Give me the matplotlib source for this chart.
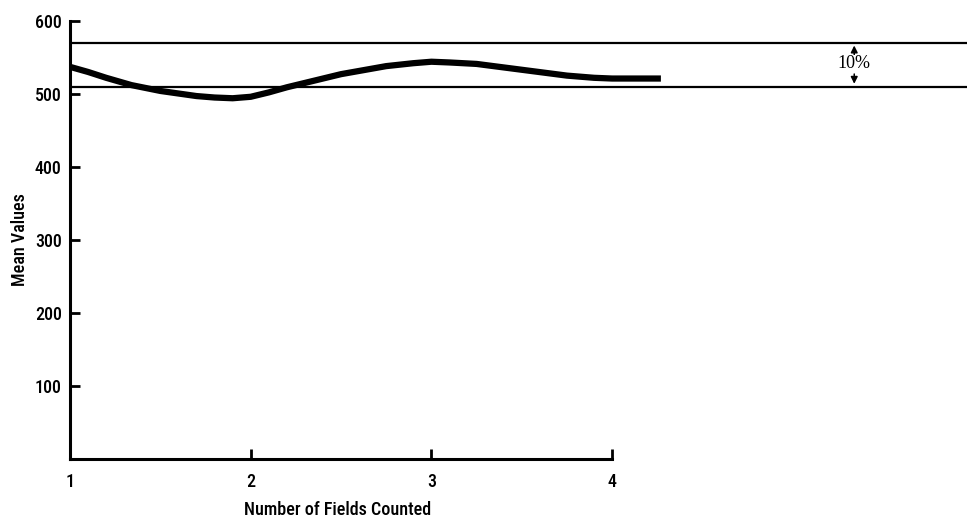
import matplotlib
matplotlib.use("Agg")
import matplotlib.pyplot as plt
from matplotlib import font_manager

# values
fields = [1.0, 1.1, 1.2, 1.34, 1.5, 1.7, 1.8, 1.9, 2.0, 2.1, 2.2, 2.35, 2.5, 2.75, 2.9, 3.0,
          3.1, 3.25, 3.5, 3.75, 3.9, 4.0, 4.27]
mean_values = [537, 530, 522, 512, 504, 497, 495, 494, 496, 502, 509, 518, 527, 538, 542, 544,
               543, 541, 533, 525, 522, 521, 521]
band_upper = 570
band_lower = 510
x_ticks = [1, 2, 3, 4]
y_ticks = [100, 200, 300, 400, 500, 600]

names = {f.name for f in font_manager.fontManager.ttflist}
label_font = "DejaVu Sans"
for candidate in ["Liberation Sans Narrow", "Roboto Condensed", "Open Sans Condensed"]:
    if candidate in names:
        label_font = candidate
        break
text_style = dict(family=label_font, stretch="condensed", fontsize=13, weight="medium")

fig = plt.figure(figsize=(9.67, 5.21), dpi=100)
ax = fig.add_axes([0.0724, 0.119, 0.9276, 0.841])

ax.plot(fields, mean_values, color="black", linewidth=4.5, solid_capstyle="butt",
        solid_joinstyle="round")
ax.axhline(band_upper, color="black", linewidth=1.6)
ax.axhline(band_lower, color="black", linewidth=1.6)

# 10% band marker
arrow_x = 5.34
band_mid = (band_upper + band_lower) / 2
ax.annotate("", xy=(arrow_x, band_upper), xytext=(arrow_x, band_mid + 9),
            arrowprops=dict(arrowstyle="-|>", color="black", lw=1.1, mutation_scale=10))
ax.annotate("", xy=(arrow_x, band_lower), xytext=(arrow_x, band_mid - 9),
            arrowprops=dict(arrowstyle="-|>", color="black", lw=1.1, mutation_scale=10))
ax.text(arrow_x, band_mid + 1, "10%", ha="center", va="center",
        fontsize=13, family="Liberation Serif",
        bbox=dict(facecolor="white", edgecolor="none", pad=0.3))

ax.set_xlim(1, 5.964)
ax.set_ylim(0, 600)
ax.spines["top"].set_visible(False)
ax.spines["right"].set_visible(False)
ax.spines["left"].set_linewidth(2.2)
ax.spines["bottom"].set_linewidth(2.2)
ax.spines["bottom"].set_bounds(1, 4)
ax.spines["left"].set_bounds(0, 600)

ax.set_xticks(x_ticks)
ax.set_yticks(y_ticks)
ax.set_xticklabels([str(v) for v in x_ticks], **text_style)
ax.set_yticklabels([str(v) for v in y_ticks], **text_style)
ax.tick_params(axis="x", direction="in", length=7, width=2, pad=10)
ax.tick_params(axis="y", direction="in", length=7, width=2, pad=6)

ax.set_xlabel("Number of Fields Counted", **text_style)
ax.xaxis.set_label_coords(0.298, -0.116)
ax.xaxis.label.set_va("center")
ax.set_ylabel("Mean Values", **text_style)
ax.yaxis.set_label_coords(-0.056, 0.5)
ax.yaxis.label.set_va("center")

fig.savefig("out.png", dpi=100)
